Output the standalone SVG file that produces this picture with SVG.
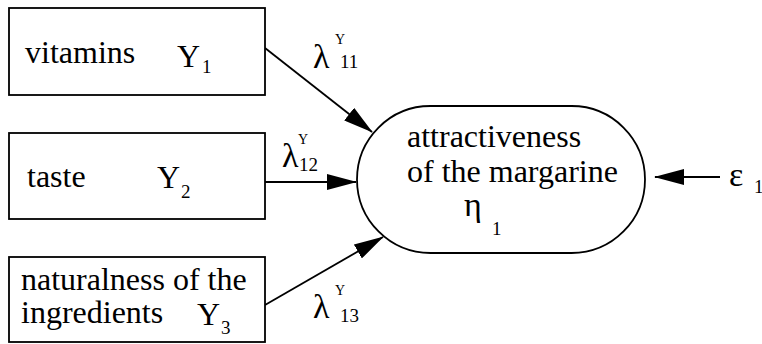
<svg xmlns="http://www.w3.org/2000/svg" width="762" height="344" viewBox="0 0 762 344" style="font-family:'Liberation Serif','Times New Roman',serif">
<defs>
<marker id="ah" markerUnits="userSpaceOnUse" markerWidth="30" markerHeight="16" refX="29" refY="8" orient="auto">
<path d="M0,0 L30,8 L0,16 Z" fill="#000"/>
</marker>
</defs>
<g id="connectors" stroke="#000" stroke-width="1.8" fill="none">
<line x1="265" y1="48" x2="372" y2="132" marker-end="url(#ah)"/>
<line x1="265" y1="182" x2="356" y2="182" marker-end="url(#ah)"/>
<line x1="265" y1="305" x2="383" y2="237" marker-end="url(#ah)"/>
<line x1="720" y1="177" x2="655" y2="177" marker-end="url(#ah)"/>
</g>
<g id="labels">
<text x="313" y="68" style="font-family:'Liberation Serif',serif !important;font-size:34px">λ</text><text x="335" y="44" style="font-family:'Liberation Serif',serif !important;font-size:14px">Y</text><text x="340" y="68" style="font-family:'Liberation Serif',serif !important;font-size:19px">11</text>
<text x="282" y="167" style="font-family:'Liberation Serif',serif !important;font-size:34px">λ</text><text x="298" y="144" style="font-family:'Liberation Serif',serif !important;font-size:14px">Y</text><text x="299" y="171" style="font-family:'Liberation Serif',serif !important;font-size:19px">12</text>
<text x="313" y="318" style="font-family:'Liberation Serif',serif !important;font-size:34px">λ</text><text x="335" y="295" style="font-family:'Liberation Serif',serif !important;font-size:14px">Y</text><text x="340" y="322" style="font-family:'Liberation Serif',serif !important;font-size:19px">13</text>
</g>
<g id="vitamins">
<rect x="9" y="8" width="256" height="87" fill="#fff" stroke="#000" stroke-width="1.8"/>
<text x="25" y="63" style="font-family:'Liberation Serif',serif !important;font-size:32px">vitamins</text>
<text x="177" y="67" style="font-family:'Liberation Serif',serif !important;font-size:32px">Y</text><text x="202" y="73" style="font-family:'Liberation Serif',serif !important;font-size:19px">1</text>
</g>
<g id="taste">
<rect x="9" y="133" width="256" height="86" fill="#fff" stroke="#000" stroke-width="1.8"/>
<text x="27" y="187" style="font-family:'Liberation Serif',serif !important;font-size:32px">taste</text>
<text x="157" y="188" style="font-family:'Liberation Serif',serif !important;font-size:32px">Y</text><text x="181" y="198" style="font-family:'Liberation Serif',serif !important;font-size:19px">2</text>
</g>
<g id="naturalness">
<rect x="9" y="257" width="256" height="85" fill="#fff" stroke="#000" stroke-width="1.8"/>
<text x="21" y="290" style="font-family:'Liberation Serif',serif !important;font-size:32px">naturalness of the</text>
<text x="21" y="323" style="font-family:'Liberation Serif',serif !important;font-size:32px">ingredients</text>
<text x="197" y="325" style="font-family:'Liberation Serif',serif !important;font-size:32px">Y</text><text x="221" y="334" style="font-family:'Liberation Serif',serif !important;font-size:19px">3</text>
</g>
<g id="attractiveness">
<rect x="357" y="106" width="288" height="147" rx="73.5" ry="73.5" fill="#fff" stroke="#000" stroke-width="1.8"/>
<text x="407" y="147" style="font-family:'Liberation Serif',serif !important;font-size:32px">attractiveness</text>
<text x="407" y="182" style="font-family:'Liberation Serif',serif !important;font-size:32px">of the margarine</text>
<text x="464" y="216" style="font-family:'Liberation Serif',serif !important;font-size:34px">η</text><text x="492" y="235" style="font-family:'Liberation Serif',serif !important;font-size:19px">1</text>
</g>
<g id="epsilon">
<text x="729" y="186" style="font-family:'Liberation Serif',serif !important;font-size:34px">ε</text><text x="754" y="193" style="font-family:'Liberation Serif',serif !important;font-size:19px">1</text>
</g>
</svg>
